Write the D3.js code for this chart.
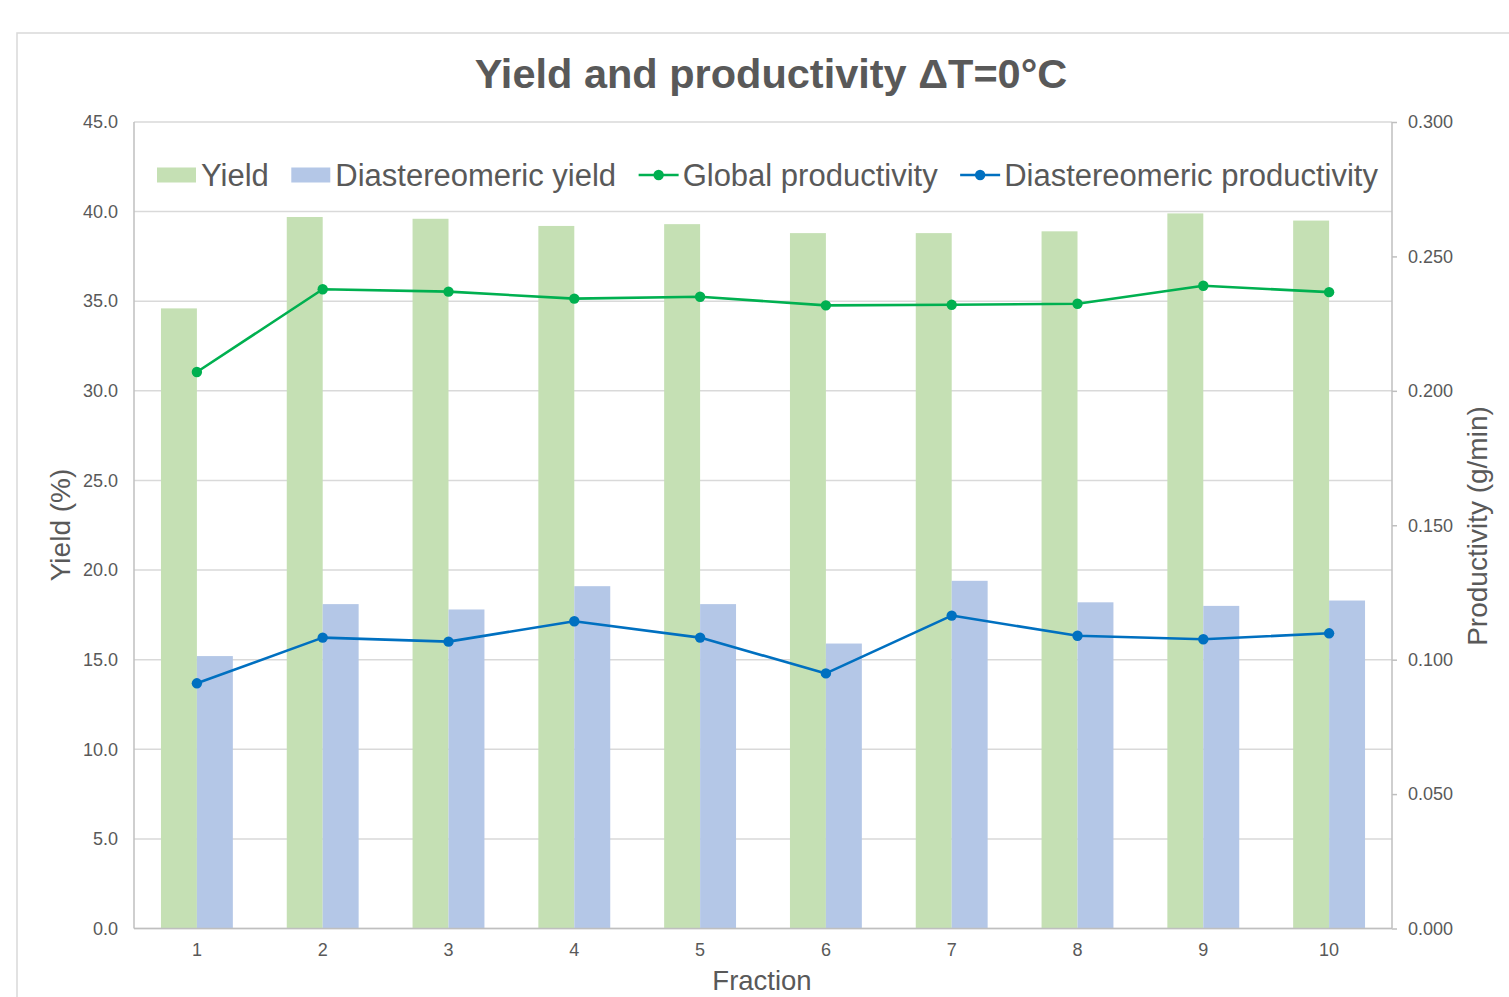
<!DOCTYPE html>
<html><head><meta charset="utf-8">
<script src="https://cdn.jsdelivr.net/npm/d3@7"></script>
<style>html,body{margin:0;padding:0;background:#fff;overflow:hidden}svg{display:block}text{font-family:"Liberation Sans",Arial,sans-serif}</style>
</head><body>
<script>
const fractions = ["1","2","3","4","5","6","7","8","9","10"];
const yieldVals = [34.6, 39.7, 39.6, 39.2, 39.3, 38.8, 38.8, 38.9, 39.9, 39.5];
const diaYield = [15.2, 18.1, 17.8, 19.1, 18.1, 15.9, 19.4, 18.2, 18.0, 18.3];
const globalProd = [0.207, 0.2378, 0.2369, 0.2343, 0.2350, 0.2318, 0.2320, 0.2324, 0.2391, 0.2367];
const diaProd = [0.0912, 0.1082, 0.1067, 0.1143, 0.1082, 0.0949, 0.1164, 0.1089, 0.1076, 0.1098];
const leftTicks = [0,5,10,15,20,25,30,35,40,45];
const rightTicks = [0,0.05,0.1,0.15,0.2,0.25,0.3];
const title = "Yield and productivity ΔT=0°C";
const legendItems = [
  {label:"Yield", type:"bar", color:"#c5e0b4"},
  {label:"Diastereomeric yield", type:"bar", color:"#b4c7e7"},
  {label:"Global productivity", type:"line", color:"#00b050"},
  {label:"Diastereomeric productivity", type:"line", color:"#0070c0"}
];

const W = 1509, H = 997;
const m = {left:134, right:1392, top:122, bottom:928.5};
const txt = "#595959";
const svg = d3.select("body").append("svg").attr("width",W).attr("height",H);

// chart border
svg.append("rect").attr("x",17).attr("y",33).attr("width",W).attr("height",H)
  .attr("fill","#fff").attr("stroke","#d9d9d9").attr("stroke-width",1.5);

const x = d3.scaleBand().domain(fractions).range([m.left,m.right]).paddingInner(0).paddingOuter(0);
const yL = d3.scaleLinear().domain([0,45]).range([m.bottom,m.top]);
const yR = d3.scaleLinear().domain([0,0.3]).range([m.bottom,m.top]);

// gridlines
svg.append("g").selectAll("line").data(leftTicks).join("line")
  .attr("x1",m.left).attr("x2",m.right).attr("y1",d=>yL(d)).attr("y2",d=>yL(d))
  .attr("stroke","#d9d9d9").attr("stroke-width",1.5);

// bars: gap width 150%
const bw = x.bandwidth()/3.5;
const bars = svg.append("g");
bars.selectAll("rect.y").data(yieldVals).join("rect").attr("class","y")
  .attr("x",(d,i)=>x(fractions[i])+x.bandwidth()/2-bw).attr("width",bw)
  .attr("y",d=>yL(d)).attr("height",d=>yL(0)-yL(d)).attr("fill","#c5e0b4");
bars.selectAll("rect.d").data(diaYield).join("rect").attr("class","d")
  .attr("x",(d,i)=>x(fractions[i])+x.bandwidth()/2).attr("width",bw)
  .attr("y",d=>yL(d)).attr("height",d=>yL(0)-yL(d)).attr("fill","#b4c7e7");

// axes
const axL = svg.append("g").attr("transform",`translate(${m.left},0)`)
  .call(d3.axisLeft(yL).tickValues(leftTicks).tickFormat(d3.format(".1f")).tickSize(0).tickPadding(16));
const axR = svg.append("g").attr("transform",`translate(${m.right},0)`)
  .call(d3.axisRight(yR).tickValues(rightTicks).tickFormat(d3.format(".3f")).tickSize(5).tickPadding(11));
const axB = svg.append("g").attr("transform",`translate(0,${m.bottom})`)
  .call(d3.axisBottom(x).tickSize(0).tickPadding(15));
[axL,axR,axB].forEach(a=>{
  a.select(".domain").attr("stroke","#bfbfbf").attr("stroke-width",1.5);
  a.selectAll(".tick line").attr("stroke","#bfbfbf").attr("stroke-width",1.5);
  a.selectAll("text").attr("fill",txt).attr("font-size",18).style("font-family","'Liberation Sans',Arial,sans-serif");
});
axR.select(".domain").attr("d",`M0,${m.top}V${m.bottom}`);
axB.select(".domain").attr("d",`M${m.left},0H${m.right}`);
axL.select(".domain").attr("d",`M0,${m.top}V${m.bottom}`);

// lines
function drawLine(vals,color){
  const pts = vals.map((v,i)=>[x(fractions[i])+x.bandwidth()/2, yR(v)]);
  svg.append("path").attr("d",d3.line()(pts)).attr("fill","none").attr("stroke",color).attr("stroke-width",2.6)
    .attr("stroke-linejoin","round");
  svg.append("g").selectAll("circle").data(pts).join("circle")
    .attr("cx",d=>d[0]).attr("cy",d=>d[1]).attr("r",5.2).attr("fill",color);
}
drawLine(globalProd,"#00b050");
drawLine(diaProd,"#0070c0");

// title
svg.append("text").attr("x",771).attr("y",88).attr("text-anchor","middle")
  .attr("font-size",41.5).attr("font-weight","bold").attr("fill",txt).text(title);

// axis titles
svg.append("text").attr("x",762).attr("y",990).attr("text-anchor","middle")
  .attr("font-size",27.5).attr("fill",txt).text("Fraction");
svg.append("text").attr("transform","translate(70,525) rotate(-90)").attr("text-anchor","middle")
  .attr("font-size",28).attr("fill",txt).text("Yield (%)");
svg.append("text").attr("transform","translate(1487,526) rotate(-90)").attr("text-anchor","middle")
  .attr("font-size",28).attr("fill",txt).text("Productivity (g/min)");

// legend
const lg = svg.append("g");
let lx = 157; const ly = 175;
legendItems.forEach(it=>{
  if(it.type==="bar"){
    lg.append("rect").attr("x",lx).attr("y",ly-7.5).attr("width",39).attr("height",15).attr("fill",it.color);
  } else {
    lg.append("line").attr("x1",lx).attr("x2",lx+40).attr("y1",ly).attr("y2",ly).attr("stroke",it.color).attr("stroke-width",2.6);
    lg.append("circle").attr("cx",lx+20).attr("cy",ly).attr("r",5.2).attr("fill",it.color);
  }
  const t = lg.append("text").attr("x",lx+44).attr("y",ly+11).attr("font-size",31).attr("fill",txt).text(it.label);
  lx += 44 + t.node().getComputedTextLength() + 22.5;
});
</script>
</body></html>
